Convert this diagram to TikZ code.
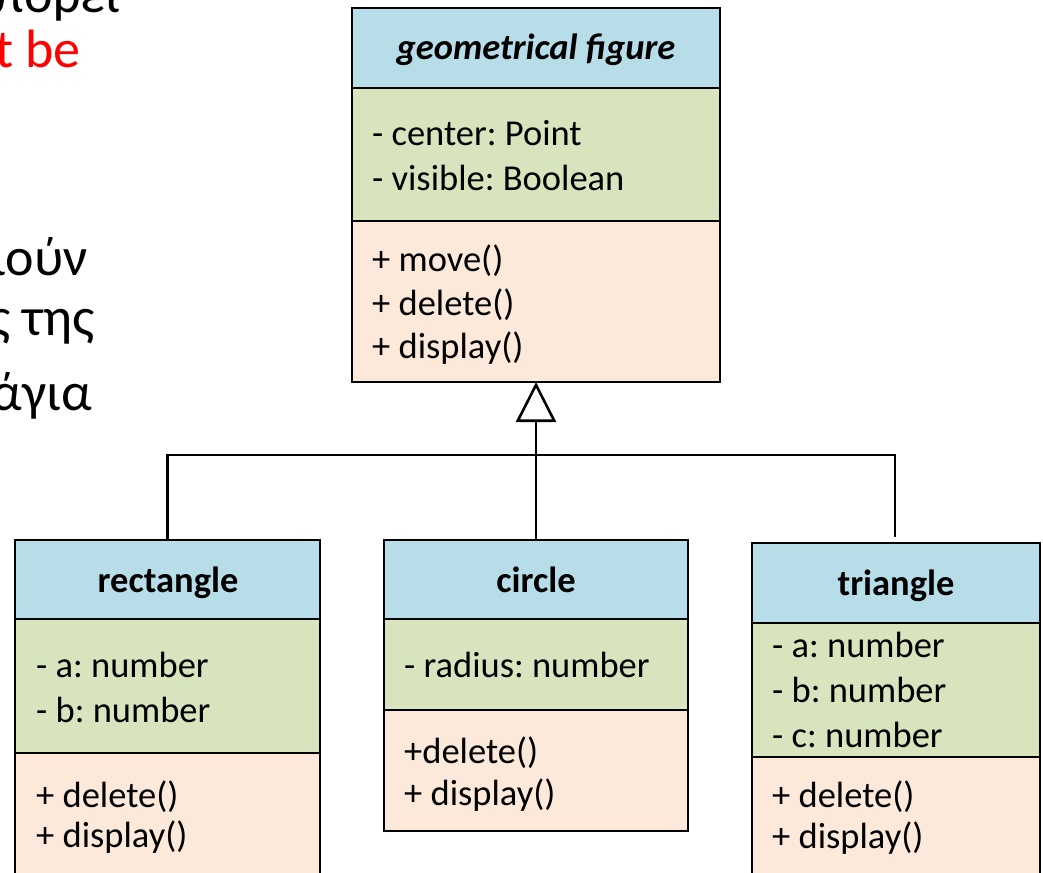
\documentclass[tikz,border=0pt]{standalone}
\usepackage{fontspec}
\setmainfont{Carlito}
\usetikzlibrary{arrows.meta}
\definecolor{hdr}{HTML}{B7DDE8}
\definecolor{att}{HTML}{D7E4BD}
\definecolor{mth}{HTML}{FDE9D9}
\definecolor{redtxt}{HTML}{FF0000}
\frenchspacing
\begin{document}
\begin{tikzpicture}[x=1pt,y=-1pt,
  comp/.style={draw=black, line width=2.6pt, inner sep=0pt, outer sep=0pt, anchor=north west},
  txt/.style={anchor=base west, inner sep=0pt, font=\fontsize{36.5}{44}\selectfont},
  ttl/.style={anchor=base, inner sep=0pt, font=\fontsize{36.5}{44}\selectfont\bfseries},
  side/.style={anchor=base east, inner sep=0pt, font=\fontsize{54}{66}\selectfont},
  conn/.style={draw=black, line width=2.6pt}]
\useasboundingbox (0,0) rectangle (1043,872);
\fill[white] (0,0) rectangle (1043,872);

% side text (cut off at the page edge, as in the reference)
\node[side] (s1) at (120,13) {πορεί};
\node[side, text=redtxt] (s2) at (81,68) {t be};
\node[side] (s3) at (88,275) {ιούν};
\node[side] (s4) at (95,335) {ς της};
\node[side] (s5) at (92,410) {άγια};

% geometrical figure
\node[comp, fill=hdr, minimum width=368pt, minimum height=80pt] (gfh) at (352,8) {};
\node[comp, fill=att, minimum width=368pt, minimum height=133pt] (gfa) at (352,88) {};
\node[comp, fill=mth, minimum width=368pt, minimum height=161pt] (gfm) at (352,221) {};
\node[ttl, font=\fontsize{36.5}{44}\selectfont\bfseries\itshape] (gft) at (536,60) {geometrical figure};
\node[txt] (gf1) at (372,145) {- center: Point};
\node[txt] (gf2) at (372,190) {- visible: Boolean};
\node[txt] (gf3) at (372,271) {+ move()};
\node[txt] (gf4) at (372,315) {+ delete()};
\node[txt] (gf5) at (372,358) {+ display()};

% rectangle
\node[comp, fill=hdr, minimum width=305pt, minimum height=79pt] (rh) at (15,540) {};
\node[comp, fill=att, minimum width=305pt, minimum height=134pt] (ra) at (15,619) {};
\node[comp, fill=mth, minimum width=305pt, minimum height=160pt] (rm) at (15,753) {};
\node[ttl] (rt) at (168,592) {rectangle};
\node[txt] (r1) at (36,677) {- a: number};
\node[txt] (r2) at (36,722) {- b: number};
\node[txt] (r3) at (36,807) {+ delete()};
\node[txt] (r4) at (36,847) {+ display()};

% circle
\node[comp, fill=hdr, minimum width=304pt, minimum height=79pt] (ch) at (384,540) {};
\node[comp, fill=att, minimum width=304pt, minimum height=91pt] (ca) at (384,619) {};
\node[comp, fill=mth, minimum width=304pt, minimum height=121pt] (cm) at (384,710) {};
\node[ttl] (ct) at (536,592) {circle};
\node[txt] (c1) at (404,677) {- radius: number};
\node[txt] (c2) at (404,763) {+delete()};
\node[txt] (c3) at (404,805) {+ display()};

% triangle
\node[comp, fill=hdr, minimum width=288pt, minimum height=80pt] (th) at (752,543) {};
\node[comp, fill=att, minimum width=288pt, minimum height=134pt] (ta) at (752,623) {};
\node[comp, fill=mth, minimum width=288pt, minimum height=160pt] (tm) at (752,757) {};
\node[ttl] (tt) at (896,595) {triangle};
\node[txt] (t1) at (772,657) {- a: number};
\node[txt] (t2) at (772,702) {- b: number};
\node[txt] (t3) at (772,747) {- c: number};
\node[txt] (t4) at (772,807) {+ delete()};
\node[txt] (t5) at (772,848) {+ display()};

% generalization connectors
\coordinate (j) at (536,455);
\coordinate (tend) at (895,537);
\draw[conn] (rh.north) |- (j) -| (tend);
\draw[conn, -{Triangle[open, length=40pt, width=40pt]}] (ch.north) -- (gfm.south);
\end{tikzpicture}
\end{document}
